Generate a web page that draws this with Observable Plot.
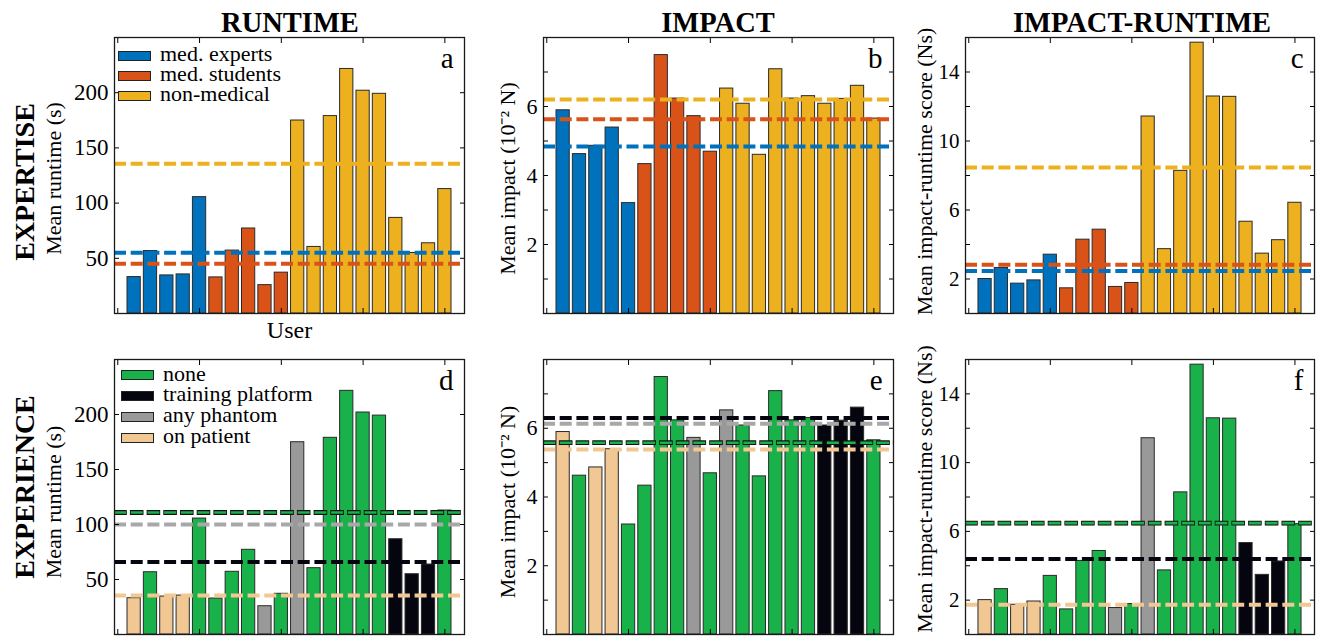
<!DOCTYPE html>
<html><head><meta charset="utf-8">
<script src="https://cdn.jsdelivr.net/npm/d3@7"></script>
<script src="https://cdn.jsdelivr.net/npm/@observablehq/plot@0.6"></script>
<style>
body{margin:0;background:#fff;}
#fig{position:relative;width:1319px;height:636px;overflow:hidden;font-family:"Liberation Serif",serif;color:#000;background:#fff;}
#fig svg{position:absolute;overflow:visible;}
.title{position:absolute;font-family:"Liberation Serif",serif;font-weight:bold;font-size:28.5px;line-height:28px;white-space:nowrap;transform:translateX(-50%);}
.rowlab{position:absolute;font-family:"Liberation Serif",serif;font-weight:bold;font-size:28px;line-height:28px;white-space:nowrap;transform:translate(-50%,-50%) rotate(-90deg);}
.leg{position:absolute;display:flex;align-items:center;height:20px;font-family:"Liberation Serif",serif;font-size:22px;line-height:20px;white-space:nowrap;}
.leg span{display:inline-block;height:19px;line-height:20px;overflow:visible;position:relative;top:-2px;font-family:"Liberation Serif",serif;}
.sw{box-sizing:border-box;width:33px;height:10px;border:1px solid #222;}
</style></head><body><div id="fig"></div><script>
// ---- data ----
const users = [1,2,3,4,5,6,7,8,9,10,11,12,13,14,15,16,17,18,19,20];
const runtime = [33,56.6,34.5,35.4,105.4,32.7,57,77,25.7,37,174.8,60.3,178.8,221.5,201.8,199,86.6,54.8,63.6,112.7];
const impact = [5.89,4.62,4.86,5.39,3.20,4.33,7.49,6.23,5.72,4.69,6.52,6.08,4.60,7.08,6.23,6.30,6.08,6.22,6.60,5.65];
const score = [2.0,2.64,1.73,1.92,3.41,1.46,4.28,4.86,1.54,1.77,11.42,3.73,8.27,15.70,12.58,12.56,5.32,3.47,4.25,6.42];
const expertise = ["med. experts","med. experts","med. experts","med. experts","med. experts",
  "med. students","med. students","med. students","med. students","med. students",
  "non-medical","non-medical","non-medical","non-medical","non-medical",
  "non-medical","non-medical","non-medical","non-medical","non-medical"];
const experience = ["on patient","none","on patient","on patient","none","none","none","none","any phantom","none",
  "any phantom","none","none","none","none","none","training platform","training platform","training platform","none"];
const expertiseGroups = ["med. experts","med. students","non-medical"];
const expertiseColors = ["#0072BD","#D95319","#EDB120"];
const experienceGroups = ["none","training platform","any phantom","on patient"];
const experienceColors = ["#19B14A","#05050F","#999999","#F1C794"];
const runtimeMeanExpertise = [55.1,45.1,135.7];
const impactMeanExpertise = [4.84,5.63,6.20];
const scoreMeanExpertise = [2.46,2.83,8.47];
const runtimeMeanExperience = [110.9,66,100,35.5];
const impactMeanExperience = [5.58,6.30,6.13,5.38];
const scoreMeanExperience = [6.48,4.39,6.48,1.73];
const xTicks = [0,5,10,15,20];
const runtimeTicks = [50,100,150,200];
const runtimeLabels = [50,100,150,200];
const impactTicks = [1,2,3,4,5,6,7];
const impactLabels = [2,4,6];
const scoreTicks = [2,4,6,8,10,12,14];
const scoreLabels = [2,6,10,14];
const columnTitles = ["RUNTIME","IMPACT","IMPACT-RUNTIME"];
const rowTitles = ["EXPERTISE","EXPERIENCE"];
const yLabels = ["Mean runtime (s)","Mean impact (10\u207B\u00B2 N)","Mean impact-runtime score (Ns)"];
const letters = ["a","b","c","d","e","f"];
const xLabel = "User";

// ---- layout ----
const FONT = '"Liberation Serif", serif';
const fig = document.getElementById("fig");
const cols = [
  {left:0, width:470, ml:114, mr:6, ydx:-61, cx:290, tickFont:23},
  {left:460, width:439, ml:83, mr:6, ydx:-36, cx:718, tickFont:22},
  {left:890, width:429, ml:75, mr:5, ydx:-41, cx:1142, tickFont:21}
];
const rows = [
  {top:0, mt:37, fh:276, mb:34},
  {top:330, mt:29, fh:275, mb:2}
];
// vertical nudge of each panel's y-axis title [row][col]
const yLabelDy = [[3, 3, -4], [5, 5, -8]];
const barHalf = 0.405;

function panel(r, c, cfg) {
  const col = cols[c], row = rows[r];
  const data = users.map((u, i) => ({user: u, value: cfg.values[i], group: cfg.groups[i]}));
  const means = cfg.meanGroups.map((g, i) => ({group: g, value: cfg.means[i]}))
    .sort((a, b) => cfg.order.indexOf(a.group) - cfg.order.indexOf(b.group));
  const groupColor = {value: "group", scale: "color"};
  const marks = [
    Plot.rectY(data, {x1: d => d.user - barHalf, x2: d => d.user + barHalf, y1: 0, y2: "value",
      fill: groupColor, stroke: "#2a2a2a", strokeWidth: 1})
  ];
  for (const m of means) {
    if (m.group === cfg.outlined) {
      marks.push(Plot.ruleY([m], {y: "value", stroke: "#111", strokeWidth: 4.8,
        strokeDasharray: "13.6,3.1", strokeDashoffset: 0.8}));
      marks.push(Plot.ruleY([m], {y: "value", stroke: groupColor, strokeWidth: 2.6,
        strokeDasharray: "12,4.7"}));
    } else {
      const lc = cfg.lineColor && cfg.lineColor[m.group];
      marks.push(Plot.ruleY([m], {y: "value", stroke: lc || groupColor,
        strokeWidth: 4, strokeDasharray: "12,4.7"}));
    }
  }
  marks.push(
    Plot.axisY({anchor: "left", ticks: cfg.labels, tickSize: 0, tickPadding: 6, fontSize: col.tickFont, fontFamily: FONT, label: null}),
    Plot.axisY({anchor: "left", ticks: cfg.ticks, tickSize: -5, tickFormat: () => "", label: null}),
    Plot.axisY({anchor: "right", ticks: cfg.ticks, tickSize: -5, tickFormat: () => "", label: null}),
    Plot.axisX({anchor: "bottom", ticks: xTicks, tickSize: -5, tickFormat: () => "", label: null}),
    Plot.axisX({anchor: "top", ticks: xTicks, tickSize: -5, tickFormat: () => "", label: null}),
    Plot.frame({stroke: "#1a1a1a", strokeWidth: 1.3}),
    Plot.text([cfg.yLabel], {frameAnchor: "left", textAnchor: "middle", lineAnchor: "middle", rotate: -90,
      dx: col.ydx, dy: yLabelDy[r][c], fontSize: 22, fontFamily: FONT, fill: "#000"}),
    Plot.text([cfg.letter], {frameAnchor: "top-right", textAnchor: "end", lineAnchor: "top", dx: -11, dy: 10, fontSize: 29, fontFamily: FONT, fill: "#000"})
  );
  if (cfg.xLabel) marks.push(Plot.text([cfg.xLabel], {frameAnchor: "bottom", textAnchor: "middle", lineAnchor: "top", dy: 7, fontSize: 24, fontFamily: FONT, fill: "#000"}));
  const svg = Plot.plot({
    width: col.width,
    height: row.mt + row.fh + row.mb,
    marginLeft: col.ml, marginRight: col.mr, marginTop: row.mt, marginBottom: row.mb,
    x: {domain: [-0.2, 21.2]},
    y: {domain: cfg.domain},
    color: {type: "ordinal", domain: cfg.colorDomain, range: cfg.colorRange},
    style: {fontFamily: FONT, fontSize: "22px", color: "#000", background: "transparent", overflow: "visible"},
    marks
  });
  svg.style.left = col.left + "px";
  svg.style.top = row.top + "px";
  svg.style.maxWidth = "none";
  fig.appendChild(svg);
}

const topCfg = {groups: expertise, meanGroups: expertiseGroups, colorDomain: expertiseGroups, colorRange: expertiseColors,
  order: ["med. students","med. experts","non-medical"]};
const botCfg = {groups: experience, meanGroups: experienceGroups, colorDomain: experienceGroups, colorRange: experienceColors,
  order: ["any phantom","on patient","training platform","none"], outlined: "none",
  lineColor: {"any phantom": "#A8A8A8"}};

panel(0, 0, {...topCfg, values: runtime, means: runtimeMeanExpertise, domain: [0,250], ticks: runtimeTicks, labels: runtimeLabels, yLabel: yLabels[0], letter: letters[0], xLabel});
panel(0, 1, {...topCfg, values: impact, means: impactMeanExpertise, domain: [0,8], ticks: impactTicks, labels: impactLabels, yLabel: yLabels[1], letter: letters[1]});
panel(0, 2, {...topCfg, values: score, means: scoreMeanExpertise, domain: [0,16], ticks: scoreTicks, labels: scoreLabels, yLabel: yLabels[2], letter: letters[2]});
panel(1, 0, {...botCfg, values: runtime, means: runtimeMeanExperience, domain: [0,250], ticks: runtimeTicks, labels: runtimeLabels, yLabel: yLabels[0], letter: letters[3]});
panel(1, 1, {...botCfg, values: impact, means: impactMeanExperience, domain: [0,8], ticks: impactTicks, labels: impactLabels, yLabel: yLabels[1], letter: letters[4]});
panel(1, 2, {...botCfg, values: score, means: scoreMeanExperience, domain: [0,16], ticks: scoreTicks, labels: scoreLabels, yLabel: yLabels[2], letter: letters[5]});

// titles
columnTitles.forEach((t, i) => {
  const d = document.createElement("div");
  d.className = "title"; d.textContent = t;
  d.style.left = cols[i].cx + "px"; d.style.top = "9px";
  fig.appendChild(d);
});
const rowCenters = [182, 487];
rowTitles.forEach((t, i) => {
  const d = document.createElement("div");
  d.className = "rowlab"; d.textContent = t;
  d.style.left = "25px"; d.style.top = rowCenters[i] + "px";
  fig.appendChild(d);
});
// legends
function legend(groups, colors, x, y0, step) {
  groups.forEach((g, i) => {
    const row = document.createElement("div");
    row.className = "leg";
    row.style.left = x + "px";
    row.style.top = (y0 + i * step - 10) + "px";
    const sw = document.createElement("div");
    sw.className = "sw"; sw.style.background = colors[i];
    const sp = document.createElement("span");
    sp.textContent = g; sp.style.marginLeft = "9px";
    row.appendChild(sw); row.appendChild(sp);
    fig.appendChild(row);
  });
}
legend(expertiseGroups, expertiseColors, 118, 55.5, 20.1);
legend(experienceGroups, experienceColors, 121, 375, 20.9);
</script></body></html>
